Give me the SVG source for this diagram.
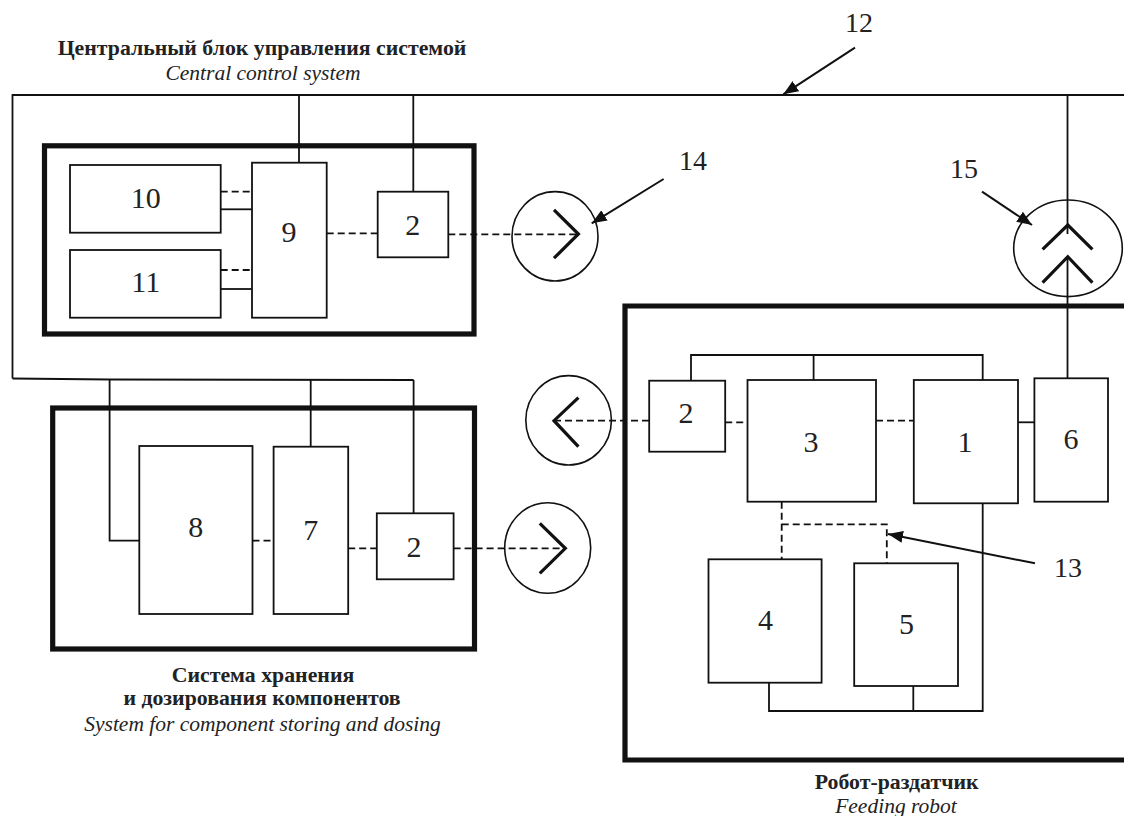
<svg xmlns="http://www.w3.org/2000/svg" width="1124" height="816" viewBox="0 0 1124 816">
<style>
.bx{fill:#fff;stroke:#111;stroke-width:1.8}
.big{fill:none;stroke:#111;stroke-width:5.2}
.ln{fill:none;stroke:#111;stroke-width:1.8}
.ds{fill:none;stroke:#111;stroke-width:1.8;stroke-dasharray:7 4}
.ch{fill:none;stroke:#111;stroke-width:3.2}
.ci{fill:none;stroke:#111;stroke-width:1.6}
.num{font-size:30px;fill:#222;text-anchor:middle}
.lbl{font-size:28px;fill:#222;text-anchor:middle}
.ttl{font-size:21.8px;font-weight:bold;fill:#222;text-anchor:middle}
.it{font-size:21.5px;font-style:italic;fill:#222;text-anchor:middle}
.ar{fill:none;stroke:#111;stroke-width:2;marker-end:url(#ah)}
</style>
<defs>
<marker id="ah" markerUnits="userSpaceOnUse" markerWidth="16" markerHeight="12" refX="15" refY="6" orient="auto">
<path d="M0,0 L15,6 L0,12 z" fill="#111"/>
</marker>
</defs>
<rect width="1124" height="816" fill="#fff"/>

<g id="connectors">
<path class="ln" d="M12.5,378.5 V95 H1124"/>
<path class="ln" d="M12.5,378.5 L110,379.5 L413.6,380"/>
<path class="ln" d="M299,95 V162.7"/>
<path class="ln" d="M413.3,95 V191.7"/>
<path class="ln" d="M1067.5,95 V234"/>
<path class="ln" d="M1067.5,256.7 V378.3"/>
<path class="ln" d="M109.6,379.5 V540.7 H139.3"/>
<path class="ln" d="M310.7,380 V446.7"/>
<path class="ln" d="M413.6,380 V513.3"/>
<path class="ds" d="M220.7,191.7 H252"/>
<path class="ln" d="M220.7,209.3 H252"/>
<path class="ds" d="M220.7,270 H252"/>
<path class="ln" d="M220.7,289 H252"/>
<path class="ds" d="M326.7,233.3 H377.7"/>
<path class="ds" d="M448.3,234.3 H578"/>
<path class="ds" d="M252.5,540.7 H273.6"/>
<path class="ds" d="M348.2,548.3 H376.8"/>
<path class="ds" d="M453.6,548.3 H565"/>
<path class="ds" d="M554,420.7 H649.2"/>
<path class="ds" d="M725.2,422.3 H747.5"/>
<path class="ds" d="M876,420.7 H913.8"/>
<path class="ln" d="M1018,422.3 H1034.4"/>
<path class="ln" d="M691,380.7 V355 H982.7 V380"/>
<path class="ln" d="M813.6,355 V380"/>
<path class="ds" d="M781.7,501.7 V559.3"/>
<path class="ds" d="M781.7,524.3 H886.8 V563.3"/>
<path class="ln" d="M982.7,503.3 V711 H769 V682.7"/>
<path class="ln" d="M913.3,686 V711"/>
<path class="ar" d="M855,47.7 L783.3,94.3"/>
<path class="ar" d="M663.6,179 L591.7,223.3"/>
<path class="ar" d="M982,191.7 L1032,225"/>
<path class="ar" d="M1035,563.3 L888,534"/>
</g>

<g font-family="'Liberation Serif', 'Times New Roman', 'DejaVu Serif', serif">
<g id="central-control">
<rect class="big" x="44.5" y="145.8" width="429.5" height="188.2"/>
<text class="ttl" x="262" y="55">Центральный блок управления системой</text>
<text class="it" x="263" y="80">Central control system</text>
</g>
<g id="node-10"><rect class="bx" x="70" y="165" width="150.7" height="67.7"/><text class="num" x="145.7" y="207.5">10</text></g>
<g id="node-11"><rect class="bx" x="70" y="250" width="150.7" height="67.7"/><text class="num" x="145.7" y="291.5">11</text></g>
<g id="node-9"><rect class="bx" x="252" y="162.7" width="74.7" height="155"/><text class="num" x="289" y="241.5">9</text></g>
<g id="node-2a"><rect class="bx" x="377.7" y="191.7" width="70.6" height="65.6"/><text class="num" x="412.7" y="234.5">2</text></g>

<g id="storage">
<rect class="big" x="52.7" y="408" width="421.8" height="241"/>
<text class="ttl" x="263" y="681.7">Система хранения</text>
<text class="ttl" x="262" y="705">и дозирования компонентов</text>
<text class="it" x="262.5" y="730.7">System for component storing and dosing</text>
</g>
<g id="node-8"><rect class="bx" x="139.3" y="446" width="113.2" height="168"/><text class="num" x="195.7" y="537">8</text></g>
<g id="node-7"><rect class="bx" x="273.6" y="446.7" width="74.6" height="167.3"/><text class="num" x="310.7" y="540">7</text></g>
<g id="node-2b"><rect class="bx" x="376.8" y="513.3" width="76.8" height="66"/><text class="num" x="414" y="556.7">2</text></g>

<g id="robot">
<path class="big" d="M1130,306 H625 V760 H1130"/>
<text class="ttl" x="896.7" y="789.3">Робот-раздатчик</text>
<text class="it" x="896" y="812.5">Feeding robot</text>
</g>
<g id="node-2c"><rect class="bx" x="649.2" y="380.7" width="76" height="71"/><text class="num" x="686" y="423.3">2</text></g>
<g id="node-3"><rect class="bx" x="747.5" y="380" width="128.5" height="121.7"/><text class="num" x="811" y="451.7">3</text></g>
<g id="node-1"><rect class="bx" x="913.8" y="380" width="104.2" height="123.3"/><text class="num" x="965" y="451.7">1</text></g>
<g id="node-6"><rect class="bx" x="1034.4" y="378.3" width="73.6" height="123.4"/><text class="num" x="1071" y="449.3">6</text></g>
<g id="node-4"><rect class="bx" x="708.5" y="559.3" width="113.1" height="123.4"/><text class="num" x="765.5" y="630">4</text></g>
<g id="node-5"><rect class="bx" x="854.2" y="563.3" width="103.8" height="122.7"/><text class="num" x="906.5" y="634">5</text></g>

<g id="labels">
<text class="lbl" x="859" y="32.3">12</text>
<text class="lbl" x="693" y="170">14</text>
<text class="lbl" x="964" y="178.3">15</text>
<text class="lbl" x="1068" y="576.7">13</text>
</g>
</g>

<g id="channel-14">
<ellipse class="ci" cx="555" cy="236.3" rx="43" ry="44.7"/>
<path class="ch" d="M554,209.8 L578.4,234 L554,258.2"/>
</g>
<g id="channel-storage">
<ellipse class="ci" cx="547.7" cy="548" rx="43" ry="45.3"/>
<path class="ch" d="M539.8,523.3 L565.3,548.3 L539.8,573.3"/>
</g>
<g id="channel-robot">
<ellipse class="ci" cx="568.6" cy="420.3" rx="42.8" ry="44.7"/>
<path class="ch" d="M578.4,397.7 L554,420.7 L578.4,446.7"/>
</g>
<g id="channel-15">
<ellipse class="ci" cx="1068" cy="248.3" rx="54.3" ry="48.3"/>
<path class="ch" d="M1042.6,249.3 L1067.8,225 L1092.4,249.3"/>
<path class="ch" d="M1042.6,282.7 L1067.8,256.7 L1092.4,282.7"/>
</g>
</svg>
